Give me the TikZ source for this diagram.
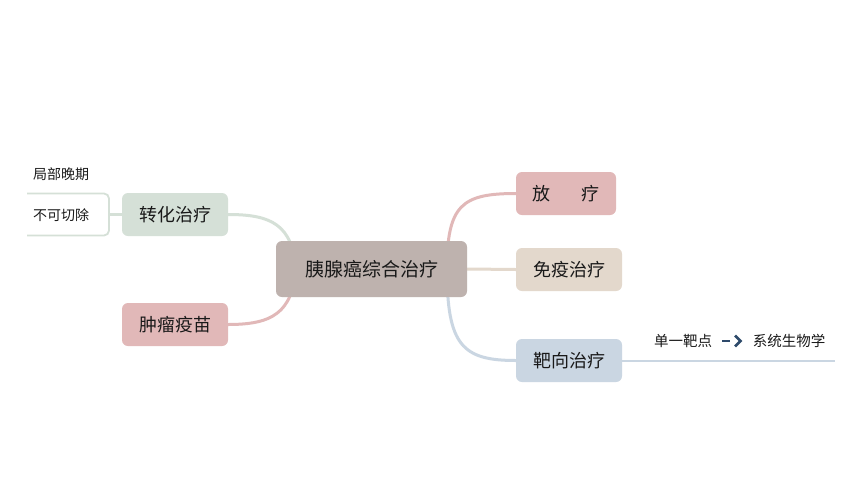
\documentclass[tikz,border=0pt]{standalone}
\usepackage{fontspec}
\setmainfont{Noto Sans CJK SC}
\usetikzlibrary{backgrounds}
\definecolor{cCenter}{RGB}{190,178,174}
\definecolor{cPink}{RGB}{225,184,184}
\definecolor{cBeige}{RGB}{227,216,204}
\definecolor{cBlue}{RGB}{202,214,226}
\definecolor{cGreen}{RGB}{213,224,215}
\definecolor{cText}{RGB}{25,25,25}
\definecolor{cArrow}{RGB}{46,74,107}
\tikzset{
  box/.style={rounded corners=6pt, draw=none, inner sep=0pt, text=cText},
  branch/.style={box, minimum width=106pt, minimum height=43pt, font=\fontsize{18}{18}\selectfont},
  small/.style={inner sep=0pt, text=cText, font=\fontsize{14}{14}\selectfont},
  conn/.style={line width=3pt},
}
\begin{document}
\begin{tikzpicture}[x=1pt,y=-1pt]
\useasboundingbox (0,0) rectangle (862,499);

\node[box, fill=cCenter, minimum width=191pt, minimum height=56pt, font=\fontsize{19}{19}\selectfont] (root) at (371.5,269) {胰腺癌综合治疗};

\node[branch, fill=cPink, minimum width=100pt] (fang) at (566,193.5) {放\hspace{31pt}疗};
\node[branch, fill=cBeige] (mianyi) at (569,269.5) {免疫治疗};
\node[branch, fill=cBlue] (baxiang) at (569,360.5) {靶向治疗};
\node[branch, fill=cGreen] (zhuanhua) at (175,214.5) {转化治疗};
\node[branch, fill=cPink] (zhongliu) at (175,324.5) {肿瘤疫苗};

\node[small] (jubu) at (61,174) {局部晚期};
\node[small] (bukeqie) at (61,215) {不可切除};

\node[small, font=\fontsize{14.5}{14.5}\selectfont] (danyi) at (683,341) {单一靶点};
\node[small, font=\fontsize{14.5}{14.5}\selectfont] (xitong) at (789,341) {系统生物学};

\coordinate (rootR) at (447,269);
\coordinate (rootL) at (296,269);
\coordinate (lineEnd) at (835,360.5);
\coordinate (boxTL) at (27,193.5);
\coordinate (boxBL) at (27,235.5);

\begin{scope}[on background layer]
\fill[white] (0,0) rectangle (862,499);
\draw[conn, cPink] (rootR) .. controls (447,205) and (462,193.5) .. (fang.west);
\draw[conn, cBeige] (root.east) -- (mianyi.west);
\draw[conn, cBlue] (rootR) .. controls (447,345) and (462,360.5) .. (baxiang.west);
\draw[conn, cGreen] (rootL) .. controls (292,225) and (272,214.5) .. (zhuanhua.east);
\draw[conn, cPink] (rootL) .. controls (292,313) and (272,324.5) .. (zhongliu.east);
\end{scope}

\draw[line width=2pt, cBlue] (baxiang.east) -- (lineEnd);
\draw[line width=2.5pt, cGreen] (zhuanhua.west) -- (109,214.5);
\draw[line width=1.8pt, cGreen, rounded corners=5pt] (boxTL) -- (109,193.5) -- (109,235.5) -- (boxBL);

\draw[line width=2.4pt, cArrow] (722,341) -- (730,341);
\draw[line width=2.6pt, cArrow, line join=miter] (735,335.5) -- (740.5,341) -- (735,346.5);
\end{tikzpicture}
\end{document}
